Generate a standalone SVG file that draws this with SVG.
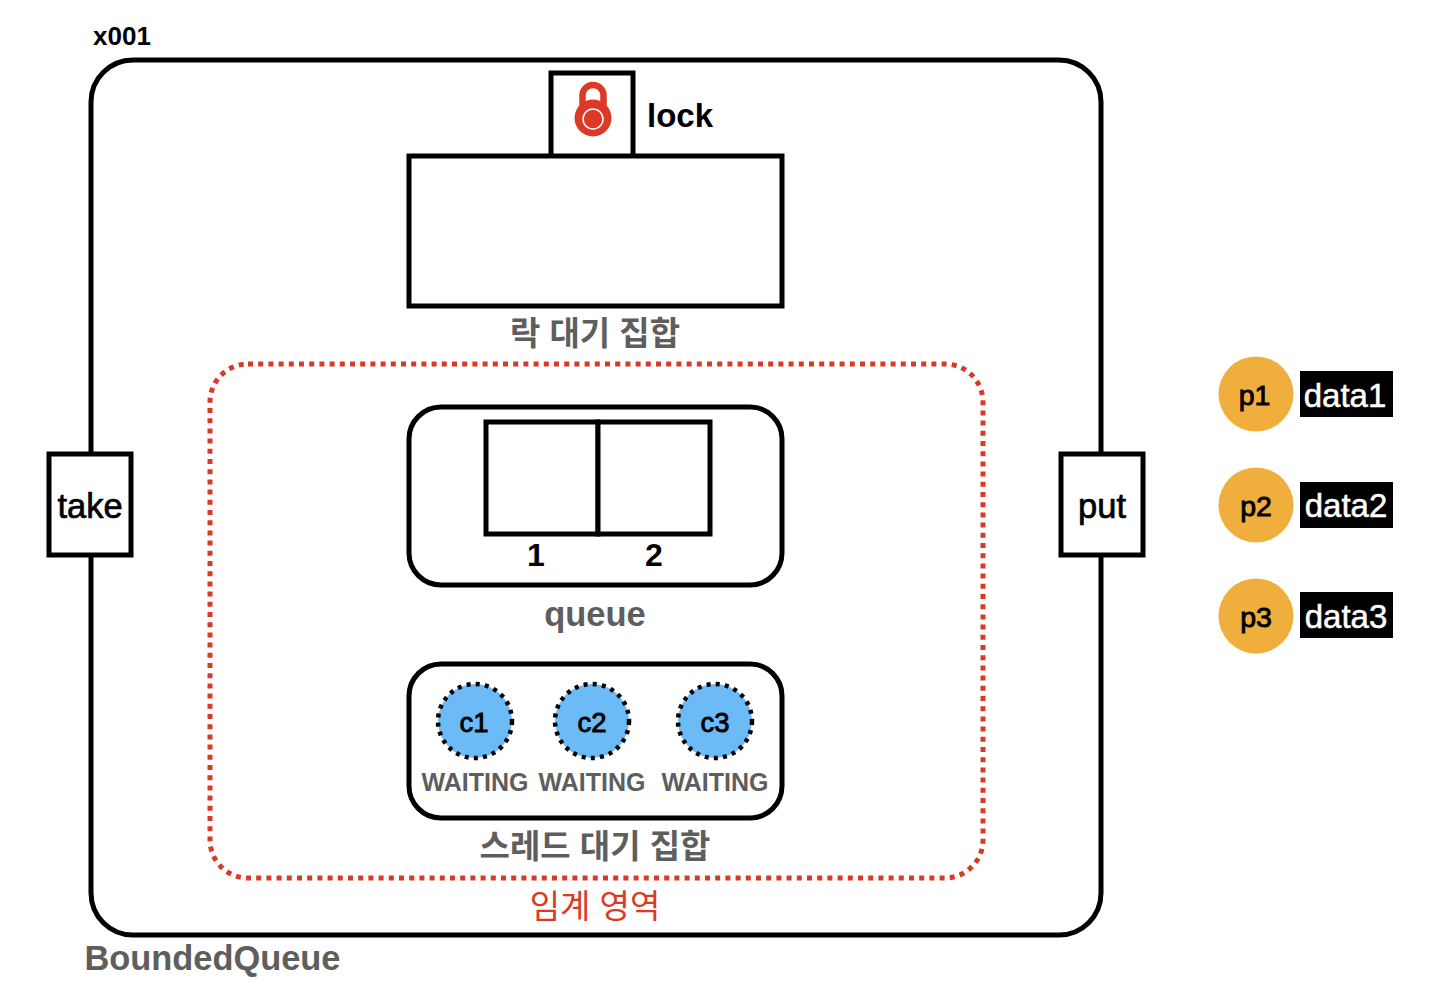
<svg xmlns="http://www.w3.org/2000/svg" width="1444" height="1002" viewBox="0 0 1444 1002">
<style>
text{font-family:"Liberation Sans","Noto Sans CJK KR",sans-serif;text-anchor:middle}
.b{fill:#fff;stroke:#000;stroke-width:5}
.t{font-size:34.500px;fill:#000;stroke:#000;stroke-width:.7}
.g{fill:#5e5e5e;font-weight:bold}
.w{font-size:25px;fill:#5e5e5e;font-weight:bold}
.c{fill:#6cbbf7;stroke:#000;stroke-width:4.500;stroke-dasharray:4 5.200}
.p{fill:#f0ae3c}
.pt{font-size:28.500px;fill:#000;stroke:#000;stroke-width:.9}
.d{fill:#000}
.dt{font-size:33px;fill:#fff;stroke:#fff;stroke-width:.5}
.n{font-size:27.500px;fill:#000;stroke:#000;stroke-width:.9}
.m{font-size:32px;fill:#000;font-weight:bold}
</style>
<rect width="1444" height="1002" fill="#fff"/>
<g id="bounded-queue">
<rect class="b" x="91" y="60" width="1010" height="875" rx="42"/>
<text x="122" y="45" font-size="26" font-weight="bold">x001</text>
<text x="212.500" y="970" class="g" font-size="34.400">BoundedQueue</text>
</g>
<g id="critical-section">
<rect x="210" y="364" width="773" height="514" rx="38" fill="none" stroke="#d93a26" stroke-width="5" stroke-dasharray="5 5.200"/>
<text x="595" y="918" font-size="33" fill="#d93a26">임계 영역</text>
</g>
<g id="lock">
<rect class="b" x="551" y="73" width="82" height="84"/>
<path d="M582.500 108V95.500a10.500 10.500 0 0 1 21 0V108" fill="none" stroke="#dc3a26" stroke-width="6.500"/>
<circle cx="593" cy="118" r="18.500" fill="#dc3a26"/>
<circle cx="593" cy="119" r="10" fill="none" stroke="#fff" stroke-width="1.500"/>
<text x="680" y="127" font-size="33" font-weight="bold">lock</text>
</g>
<g id="lock-wait-set">
<rect class="b" x="409" y="156" width="373" height="150"/>
<text x="595" y="345" class="g" font-size="33">락 대기 집합</text>
</g>
<g id="take"><rect class="b" x="49" y="454" width="82" height="101"/><text x="90" y="518" class="t">take</text></g>
<g id="put"><rect class="b" x="1061" y="454" width="82" height="101"/><text x="1102" y="518" class="t">put</text></g>
<g id="queue">
<rect class="b" x="409" y="407" width="373" height="178" rx="32"/>
<rect class="b" x="486" y="422" width="112" height="112"/>
<rect class="b" x="598" y="422" width="112" height="112"/>
<text x="536" y="566" class="m">1</text>
<text x="654" y="566" class="m">2</text>
<text x="595" y="626" class="g" font-size="34.500">queue</text>
</g>
<g id="thread-wait-set">
<rect class="b" x="409" y="664" width="373" height="154" rx="32"/>
<text x="595" y="858" class="g" font-size="33">스레드 대기 집합</text>
</g>
<g id="c1"><circle class="c" cx="475" cy="721" r="37"/><text x="474" y="732" class="n">c1</text><text x="475" y="791" class="w">WAITING</text></g>
<g id="c2"><circle class="c" cx="592" cy="721" r="37"/><text x="592" y="732" class="n">c2</text><text x="592" y="791" class="w">WAITING</text></g>
<g id="c3"><circle class="c" cx="715" cy="721" r="37"/><text x="715" y="732" class="n">c3</text><text x="715" y="791" class="w">WAITING</text></g>
<g id="p1"><circle class="p" cx="1256" cy="394" r="37.500"/><text x="1254.500" y="405" class="pt">p1</text><rect class="d" x="1300" y="371" width="93" height="46"/><text x="1345" y="407" class="dt">data1</text></g>
<g id="p2"><circle class="p" cx="1256" cy="505" r="37.500"/><text x="1256" y="516" class="pt">p2</text><rect class="d" x="1300" y="482" width="93" height="46"/><text x="1346" y="517" class="dt">data2</text></g>
<g id="p3"><circle class="p" cx="1256" cy="616" r="37.500"/><text x="1256" y="627" class="pt">p3</text><rect class="d" x="1300" y="592" width="93" height="46"/><text x="1346" y="628" class="dt">data3</text></g>
<g id="connectors"></g>
</svg>
